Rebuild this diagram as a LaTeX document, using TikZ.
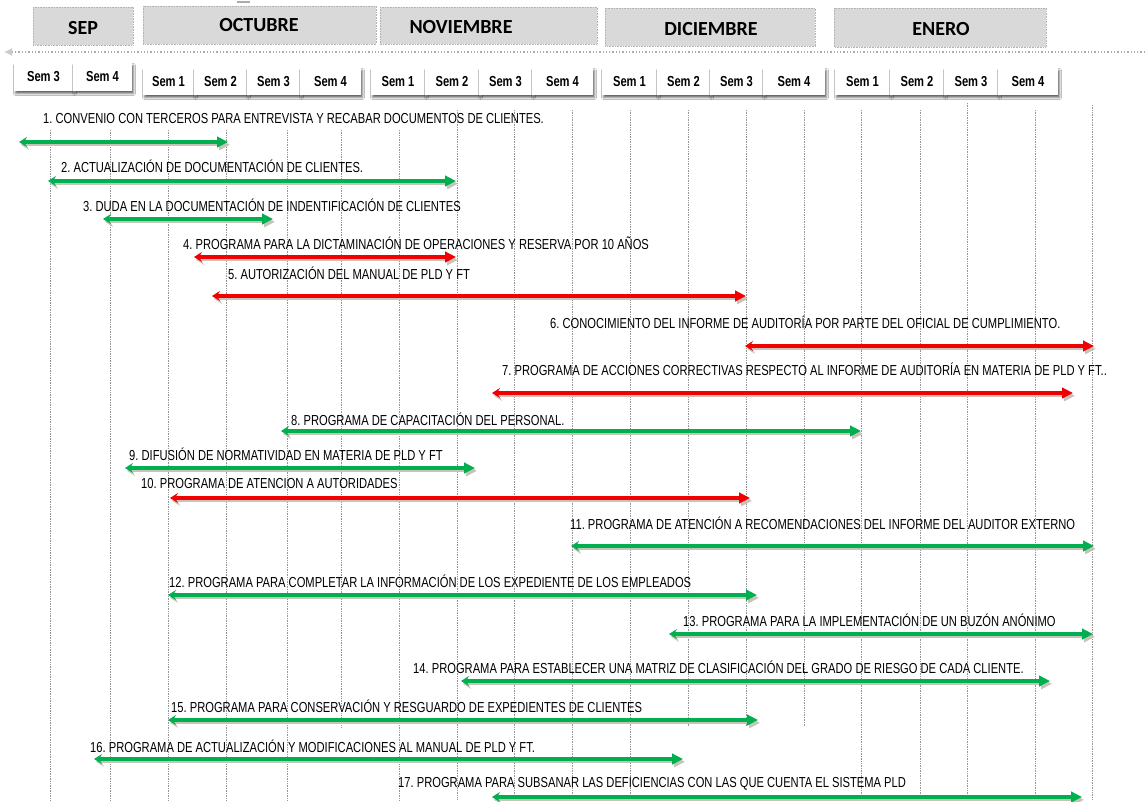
\documentclass[tikz,border=0pt]{standalone}
\usepackage{fontspec}
\newfontfamily\narrowfont[FakeStretch=0.77]{Liberation Sans}
\newfontfamily\monthfont{Carlito}
\usetikzlibrary{arrows.meta,shadows.blur}
\definecolor{tgreen}{RGB}{0,176,80}
\definecolor{tred}{RGB}{240,0,0}
\definecolor{tshadow}{RGB}{200,194,184}
\definecolor{monthgrey}{RGB}{217,217,217}
\definecolor{gridgrey}{RGB}{150,150,150}
\tikzset{
  monthbox/.style={fill=monthgrey,draw=gridgrey!70,densely dotted,line width=0.6pt},
  monthtext/.style={font=\monthfont\bfseries\fontsize{20}{22}\selectfont,inner sep=0pt,text=black},
  weekbox/.style={fill=white,inner sep=0pt,font=\narrowfont\bfseries\fontsize{14.5}{16}\selectfont,
    blur shadow={shadow xshift=1.5pt,shadow yshift=-2.5pt,shadow blur radius=2pt,shadow opacity=60}},
  tasklabel/.style={anchor=west,inner sep=0pt,font=\narrowfont\fontsize{14.5}{16}\selectfont,text=black},
  gridline/.style={gridgrey,densely dotted,line width=0.7pt},
  taskline/.style={line width=3.2pt,{Stealth[length=8pt,width=10pt,inset=3pt]}-{Triangle[length=11pt,width=10.5pt]}},
  shadowline/.style={taskline,tshadow,transform canvas={xshift=2pt,yshift=-2.8pt}}
}
% #1 number, #2 x start, #3 x end, #4 y arrow, #5 label x, #6 label y, #7 colour, #8 text
\newcommand\gtask[8]{%
  \coordinate (s#1) at (#2,#4);
  \coordinate (e#1) at (#3,#4);
  \draw[shadowline] (s#1) -- (e#1);
  \draw[taskline,#7] (s#1) -- (e#1);
  \node[tasklabel] (l#1) at (#5,#6) {#8};
}
% #1 name, #2 x1, #3 x2, #4 y1, #5 y2, #6 text
\newcommand\wk[6]{%
  \node[weekbox,minimum width=#3pt-#2pt,minimum height=#5pt-#4pt] (#1) at ({(#2+#3)/2},{(#4+#5)/2}) {#6};
}
\frenchspacing
\begin{document}
\begin{tikzpicture}[x=1pt,y=-1pt]
\useasboundingbox (0,0) rectangle (1145,801);
\fill[white] (0,0) rectangle (1145,801);

% small mark at top
\draw[gridgrey!80,line width=1.2pt] (237,2) -- (250,2);

% month boxes
\draw[monthbox] (33,7) rectangle (133,45);
\draw[monthbox] (143,6) rectangle (376,44);
\draw[monthbox] (380,7) rectangle (597,44);
\draw[monthbox] (605,8) rectangle (815,46);
\draw[monthbox] (834,8) rectangle (1046,47);
\node[monthtext] (m1) at (83,28) {SEP};
\node[monthtext] (m2) at (259,25) {OCTUBRE};
\node[monthtext] (m3) at (461,27) {NOVIEMBRE};
\node[monthtext] (m4) at (711,29) {DICIEMBRE};
\node[monthtext] (m5) at (941,29) {ENERO};

% timeline dotted arrow
\coordinate (tlr) at (1145,52);
\coordinate (tll) at (4,52);
\draw[gridgrey!80,dotted,line width=1.3pt,-{Latex[length=8pt,width=8pt,fill=gridgrey!50,color=gridgrey!50]}] (tlr) -- (tll);

% grid lines
\foreach \x in {50,110,168,226,287,399} \draw[gridline] (\x,130) -- (\x,800);
\draw[gridline] (341,130) -- (341,727);
\foreach \x in {457,514,572,630,861,920,1035} \draw[gridline] (\x,110) -- (\x,800);
\foreach \x in {688,746,804} \draw[gridline] (\x,110) -- (\x,727);
\draw[gridline] (967,103) -- (967,800);
\draw[gridline] (1092,105) -- (1092,800);

% week boxes
\wk{w1}{14}{73}{63}{91}{Sem 3}
\wk{w2}{73}{132}{63}{91}{Sem 4}
\wk{w3}{143}{194}{68}{95}{Sem 1}
\wk{w4}{194}{247}{68}{95}{Sem 2}
\wk{w5}{247}{300}{68}{95}{Sem 3}
\wk{w6}{300}{361}{68}{95}{Sem 4}
\wk{w7}{371}{425}{68}{95}{Sem 1}
\wk{w8}{425}{479}{68}{95}{Sem 2}
\wk{w9}{479}{532}{68}{95}{Sem 3}
\wk{w10}{532}{593}{68}{95}{Sem 4}
\wk{w11}{602}{657}{68}{95}{Sem 1}
\wk{w12}{657}{710}{68}{95}{Sem 2}
\wk{w13}{710}{763}{68}{95}{Sem 3}
\wk{w14}{763}{825}{68}{95}{Sem 4}
\wk{w15}{835}{890}{68}{95}{Sem 1}
\wk{w16}{890}{944}{68}{95}{Sem 2}
\wk{w17}{944}{998}{68}{95}{Sem 3}
\wk{w18}{998}{1058}{68}{95}{Sem 4}

% tasks
\gtask{1}{19}{228}{142}{43}{119}{tgreen}{1. CONVENIO CON TERCEROS PARA ENTREVISTA Y RECABAR DOCUMENTOS DE CLIENTES.}
\gtask{2}{48}{456}{181}{61}{166}{tgreen}{2. ACTUALIZACIÓN DE DOCUMENTACIÓN DE CLIENTES.}
\gtask{3}{103}{273}{219}{83}{205}{tgreen}{3. DUDA EN LA DOCUMENTACIÓN DE INDENTIFICACIÓN DE CLIENTES}
\gtask{4}{194}{456}{257}{183}{243}{tred}{4. PROGRAMA PARA LA DICTAMINACIÓN DE OPERACIONES Y RESERVA POR 10 AÑOS}
\gtask{5}{212}{746}{296}{228}{273}{tred}{5. AUTORIZACIÓN DEL MANUAL DE PLD Y FT}
\gtask{6}{745}{1094}{346}{550}{322}{tred}{6. CONOCIMIENTO DEL INFORME DE AUDITORÍA POR PARTE DEL OFICIAL DE CUMPLIMIENTO.}
\gtask{7}{492}{1073}{393}{502}{369}{tred}{7. PROGRAMA DE ACCIONES CORRECTIVAS RESPECTO AL INFORME DE AUDITORÍA EN MATERIA DE PLD Y FT..}
\gtask{8}{281}{861}{431}{291}{419}{tgreen}{8. PROGRAMA DE CAPACITACIÓN DEL PERSONAL.}
\gtask{9}{125}{475}{468}{129}{454}{tgreen}{9. DIFUSIÓN DE NORMATIVIDAD EN MATERIA DE PLD Y FT}
\gtask{10}{170}{750}{498}{141}{483}{tred}{10. PROGRAMA DE ATENCION A AUTORIDADES}
\gtask{11}{571}{1094}{546}{570}{523}{tgreen}{11. PROGRAMA DE ATENCIÓN A RECOMENDACIONES DEL INFORME DEL AUDITOR EXTERNO}
\gtask{12}{168}{757}{595}{169}{581}{tgreen}{12. PROGRAMA PARA COMPLETAR LA INFORMACIÓN DE LOS EXPEDIENTE DE LOS EMPLEADOS}
\gtask{13}{669}{1093}{634}{683}{620}{tgreen}{13. PROGRAMA PARA LA IMPLEMENTACIÓN DE UN BUZÓN ANÓNIMO}
\gtask{14}{461}{1050}{681}{413}{667}{tgreen}{14. PROGRAMA PARA ESTABLECER UNA MATRIZ DE CLASIFICACIÓN DEL GRADO DE RIESGO DE CADA CLIENTE.}
\gtask{15}{168}{758}{720}{171}{706}{tgreen}{15. PROGRAMA PARA CONSERVACIÓN Y RESGUARDO DE EXPEDIENTES DE CLIENTES}
\gtask{16}{94}{683}{759}{90}{746}{tgreen}{16. PROGRAMA DE ACTUALIZACIÓN Y MODIFICACIONES AL MANUAL DE PLD Y FT.}
\gtask{17}{492}{1082}{797}{398}{784}{tgreen}{17. PROGRAMA PARA SUBSANAR LAS DEFICIENCIAS CON LAS QUE CUENTA EL SISTEMA PLD}
\end{tikzpicture}
\end{document}
